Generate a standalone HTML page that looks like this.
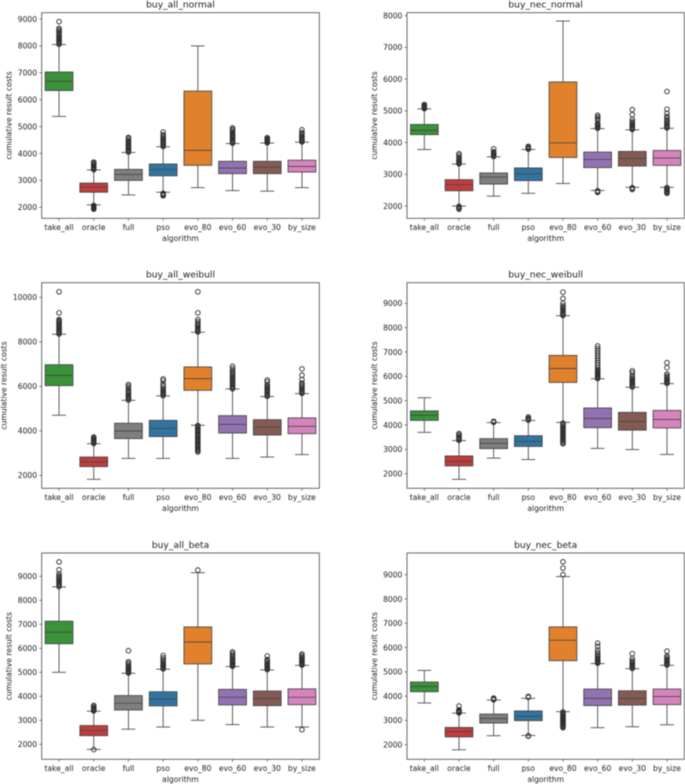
<!DOCTYPE html>
<html>
<head>
<meta charset="utf-8">
<style>
html,body{margin:0;padding:0;background:#fff;width:685px;height:784px;overflow:hidden}
svg{display:block;filter:blur(0.4px)}
text{font-family:"DejaVu Sans","Liberation Sans",sans-serif;fill:#1c1c1c}
</style>
</head>
<body>
<svg id="figure" width="685" height="784" viewBox="0 0 685 784" xmlns="http://www.w3.org/2000/svg"></svg>
<script>
const categories = ["take_all","oracle","full","pso","evo_80","evo_60","evo_30","by_size"];

const allNormalTicks = [2000,3000,4000,5000,6000,7000,8000,9000];
const allNormalDomain = [1591,9234];
const allNormalLow = [5380,2090,2460,2560,2730,2620,2600,2730];
const allNormalQ1 = [6340,2560,3000,3170,3560,3250,3250,3310];
const allNormalMedian = [6680,2750,3220,3400,4120,3460,3490,3520];
const allNormalQ3 = [7030,2900,3410,3610,6320,3710,3710,3750];
const allNormalHigh = [8050,3390,4040,4250,8000,4370,4390,4420];
const allNormalFliers = [
  [8060,8100,8140,8180,8220,8260,8300,8350,8400,8450,8500,8550,8600,8650,8900],
  [1930,1950,1970,1990,2010,2030,2050,2070,3400,3430,3460,3490,3530,3570,3610,3650,3680],
  [4050,4090,4130,4170,4210,4250,4290,4330,4370,4410,4450,4500,4560,4600],
  [2430,2460,2490,2520,4260,4300,4340,4380,4420,4460,4500,4550,4600,4650,4700,4800],
  [],
  [4380,4420,4460,4500,4540,4580,4620,4660,4700,4750,4800,4850,4900,4950],
  [4400,4430,4460,4490,4520,4550,4590],
  [4430,4470,4510,4550,4590,4630,4680,4730,4780,4880]
];

const necNormalTicks = [2000,3000,4000,5000,6000,7000,8000];
const necNormalDomain = [1612,8094];
const necNormalLow = [3780,2000,2310,2400,2710,2490,2590,2590];
const necNormalQ1 = [4250,2480,2690,2800,3530,3210,3260,3280];
const necNormalMedian = [4385,2670,2910,3010,3990,3470,3500,3510];
const necNormalQ3 = [4570,2830,3040,3200,5910,3700,3720,3750];
const necNormalHigh = [5060,3320,3550,3780,7830,4440,4400,4450];
const necNormalFliers = [
  [5070,5090,5110,5130,5150,5170,5200],
  [1900,1930,1960,1990,3330,3360,3390,3420,3450,3490,3540,3600,3650],
  [3560,3590,3620,3650,3680,3710,3800],
  [3790,3820,3850,3880],
  [],
  [2430,2450,2480,4450,4480,4510,4540,4570,4600,4700,4760,4810,4860],
  [2520,2550,2580,4410,4440,4470,4500,4540,4580,4620,4660,4730,4880,5040],
  [2400,2430,2460,2490,2520,2550,2580,4460,4490,4520,4550,4590,4630,4670,4720,4770,4820,4920,5050,5610]
];

const allWeibullTicks = [2000,4000,6000,8000,10000];
const allWeibullDomain = [1416,10656];
const allWeibullLow = [4700,1820,2760,2760,4250,2760,2820,2930];
const allWeibullQ1 = [6030,2390,3650,3740,5820,3900,3810,3870];
const allWeibullMedian = [6490,2600,3990,4110,6340,4290,4160,4200];
const allWeibullQ3 = [6970,2820,4340,4470,6870,4680,4500,4580];
const allWeibullHigh = [8340,3420,5370,5570,8430,5880,5540,5670];
const allWeibullFliers = [
  [8350,8400,8450,8500,8550,8600,8650,8700,8750,8800,8850,8900,8950,9000,9300,10250],
  [3430,3470,3510,3550,3590,3630,3680,3720],
  [5380,5430,5480,5530,5580,5640,5700,5760,5830,5920,6000,6080],
  [5580,5630,5680,5730,5780,5840,5900,6000,6100,6250,6330],
  [3050,3100,3150,3200,3250,3300,3350,3400,3450,3500,3550,3600,3650,3700,3750,3800,3850,3900,3950,4000,4050,4100,4150,4200,4240,8440,8490,8540,8590,8640,8700,8760,8820,8900,9000,9300,10250],
  [5890,5940,5990,6040,6090,6140,6190,6240,6290,6340,6400,6460,6520,6580,6640,6720,6800,6900],
  [5550,5600,5650,5700,5750,5800,5850,5900,5950,6000,6060,6200,6280],
  [5680,5730,5780,5830,5880,5950,6020,6080,6150,6300,6500,6780]
];

const necWeibullTicks = [2000,3000,4000,5000,6000,7000,8000,9000];
const necWeibullDomain = [1400,9847];
const necWeibullLow = [3700,1770,2640,2580,4110,3040,2990,2790];
const necWeibullQ1 = [4190,2320,3030,3120,5750,3890,3790,3880];
const necWeibullMedian = [4400,2510,3250,3330,6320,4270,4140,4230];
const necWeibullQ3 = [4580,2730,3440,3560,6860,4700,4520,4600];
const necWeibullHigh = [5120,3360,4100,4190,8490,5900,5550,5700];
const necWeibullFliers = [
  [],
  [3370,3410,3450,3490,3540,3600,3650],
  [4110,4130,4150],
  [4200,4240,4280,4330],
  [3230,3280,3330,3380,3430,3480,3530,3580,3630,3680,3730,3780,3830,3880,3930,3980,4030,4080,8500,8540,8580,8630,8680,8730,8780,8840,8900,9000,9200,9460],
  [5910,5950,5990,6030,6070,6110,6150,6190,6230,6270,6350,6450,6550,6650,6750,6850,6950,7050,7150,7250],
  [5560,5610,5660,5710,5760,5810,5860,5910,5970,6030,6150,6230],
  [5710,5750,5790,5830,5870,5920,5970,6030,6100,6360,6560]
];

const allBetaTicks = [2000,3000,4000,5000,6000,7000,8000,9000];
const allBetaDomain = [1375,9971];
const allBetaLow = [5000,1790,2630,2720,3000,2820,2720,2720];
const allBetaQ1 = [6190,2360,3430,3600,5350,3640,3610,3650];
const allBetaMedian = [6670,2580,3710,3880,6260,3960,3900,3960];
const allBetaQ3 = [7130,2780,4030,4190,6890,4290,4220,4310];
const allBetaHigh = [8560,3380,4960,5130,9150,5240,5100,5290];
const allBetaFliers = [
  [8570,8620,8670,8720,8770,8820,8870,8920,8970,9020,9100,9270,9600],
  [1780,3390,3420,3450,3480,3520,3570,3620],
  [4970,5010,5050,5090,5130,5170,5210,5260,5320,5380,5440,5900],
  [5140,5180,5220,5260,5300,5350,5400,5460,5520,5600,5700],
  [9260],
  [5250,5290,5330,5370,5410,5450,5500,5550,5600,5660,5720,5790,5850],
  [5110,5150,5190,5230,5270,5310,5360,5410,5470,5530,5680],
  [2610,5300,5340,5380,5420,5460,5500,5540,5590,5640,5700,5760]
];

const necBetaTicks = [2000,3000,4000,5000,6000,7000,8000,9000];
const necBetaDomain = [1399,9892];
const necBetaLow = [3720,1790,2370,2380,3360,2700,2740,2820];
const necBetaQ1 = [4180,2320,2890,2990,5460,3610,3630,3650];
const necBetaMedian = [4400,2540,3080,3170,6300,3910,3910,3980];
const necBetaQ3 = [4580,2710,3260,3390,6850,4290,4220,4290];
const necBetaHigh = [5060,3300,3840,3910,8920,5340,5130,5270];
const necBetaFliers = [
  [],
  [3310,3340,3370,3400,3440,3590],
  [3850,3880,3920],
  [2350,2370,3950,3990],
  [2700,2740,2780,2820,2860,2900,2940,2980,3020,3060,3100,3140,3180,3220,3260,3300,3350,9000,9270,9530],
  [5350,5390,5430,5470,5510,5550,5600,5660,5720,5800,5900,6050,6180],
  [5140,5180,5220,5260,5300,5350,5400,5460,5550,5750],
  [5280,5320,5360,5400,5440,5490,5540,5600,5650,5850]
];

const fillColors = ["#3a923a","#c03d3e","#7f7f7f","#3274a1","#e1812c","#9372b2","#845b53","#d684bd"];

const panels = [
  {id:"buy-all-normal",title:"buy_all_normal",left:41.7,right:319.3,top:12.7,bottom:218.3,labelX:9,ticks:allNormalTicks,domain:allNormalDomain,low:allNormalLow,q1:allNormalQ1,med:allNormalMedian,q3:allNormalQ3,high:allNormalHigh,fliers:allNormalFliers},
  {id:"buy-nec-normal",title:"buy_nec_normal",left:407,right:684.3,top:12.7,bottom:218.3,labelX:374.3,ticks:necNormalTicks,domain:necNormalDomain,low:necNormalLow,q1:necNormalQ1,med:necNormalMedian,q3:necNormalQ3,high:necNormalHigh,fliers:necNormalFliers},
  {id:"buy-all-weibull",title:"buy_all_weibull",left:41.7,right:319.3,top:282.7,bottom:488.3,labelX:4,ticks:allWeibullTicks,domain:allWeibullDomain,low:allWeibullLow,q1:allWeibullQ1,med:allWeibullMedian,q3:allWeibullQ3,high:allWeibullHigh,fliers:allWeibullFliers},
  {id:"buy-nec-weibull",title:"buy_nec_weibull",left:407,right:684.3,top:282.7,bottom:488.3,labelX:374.3,ticks:necWeibullTicks,domain:necWeibullDomain,low:necWeibullLow,q1:necWeibullQ1,med:necWeibullMedian,q3:necWeibullQ3,high:necWeibullHigh,fliers:necWeibullFliers},
  {id:"buy-all-beta",title:"buy_all_beta",left:41.7,right:319.3,top:553,bottom:759.3,labelX:9,ticks:allBetaTicks,domain:allBetaDomain,low:allBetaLow,q1:allBetaQ1,med:allBetaMedian,q3:allBetaQ3,high:allBetaHigh,fliers:allBetaFliers},
  {id:"buy-nec-beta",title:"buy_nec_beta",left:407,right:684.3,top:553,bottom:759.3,labelX:374.3,ticks:necBetaTicks,domain:necBetaDomain,low:necBetaLow,q1:necBetaQ1,med:necBetaMedian,q3:necBetaQ3,high:necBetaHigh,fliers:necBetaFliers}
];

const NS = "http://www.w3.org/2000/svg";
const svg = document.getElementById("figure");
const EDGE = "#444444";
const LW = 0.85;

function mk(parent, tag, attrs, txt) {
  const el = document.createElementNS(NS, tag);
  for (const k in attrs) el.setAttribute(k, attrs[k]);
  if (txt !== undefined) el.textContent = txt;
  parent.appendChild(el);
  return el;
}

panels.forEach(function (p) {
  const xScale = function (i) { return p.left + (i + 0.5) * (p.right - p.left) / categories.length; };
  const unit = (p.right - p.left) / categories.length;
  const yScale = function (v) { return p.bottom - (v - p.domain[0]) * (p.bottom - p.top) / (p.domain[1] - p.domain[0]); };

  const g = mk(svg, "g", {});
  
  

  categories.forEach(function (cat, i) {
    const cx = xScale(i);
    const box = mk(g, "g", {});
    
    

    const whiskerLow = mk(box, "line", {x1:cx,x2:cx,y1:yScale(p.low[i]),y2:yScale(p.q1[i]),stroke:EDGE,"stroke-width":LW});
    
    

    const whiskerHigh = mk(box, "line", {x1:cx,x2:cx,y1:yScale(p.q3[i]),y2:yScale(p.high[i]),stroke:EDGE,"stroke-width":LW});
    
    

    const capLow = mk(box, "line", {x1:cx - unit * 0.2,x2:cx + unit * 0.2,y1:yScale(p.low[i]),y2:yScale(p.low[i]),stroke:EDGE,"stroke-width":LW});
    
    

    const capHigh = mk(box, "line", {x1:cx - unit * 0.2,x2:cx + unit * 0.2,y1:yScale(p.high[i]),y2:yScale(p.high[i]),stroke:EDGE,"stroke-width":LW});
    
    

    const rect = mk(box, "rect", {x:cx - unit * 0.4,y:yScale(p.q3[i]),width:unit * 0.8,height:yScale(p.q1[i]) - yScale(p.q3[i]),fill:fillColors[i],stroke:EDGE,"stroke-width":LW});
    
    

    const median = mk(box, "line", {x1:cx - unit * 0.4,x2:cx + unit * 0.4,y1:yScale(p.med[i]),y2:yScale(p.med[i]),stroke:EDGE,"stroke-width":LW});
    
    

    p.fliers[i].forEach(function (v) {
      const dot = mk(box, "circle", {cx:cx,cy:yScale(v),r:2.3,fill:"none",stroke:"#2e2e2e","stroke-width":0.95});
      
      
    });

    const xTick = mk(g, "line", {x1:cx,x2:cx,y1:p.bottom,y2:p.bottom + 2.4,stroke:"#333","stroke-width":0.6});
    
    

    const xLab = mk(g, "text", {x:cx,y:p.bottom + 11.6,"text-anchor":"middle","font-size":7.6}, cat);
    
    
  });

  p.ticks.forEach(function (t) {
    const y = yScale(t);
    const yTick = mk(g, "line", {x1:p.left - 2.4,x2:p.left,y1:y,y2:y,stroke:"#333","stroke-width":0.6});
    
    

    const yLab = mk(g, "text", {x:p.left - 4.6,y:y + 2.8,"text-anchor":"end","font-size":7.6}, String(t));
    
    
  });

  const frame = mk(g, "rect", {x:p.left,y:p.top,width:p.right - p.left,height:p.bottom - p.top,fill:"none",stroke:"#444","stroke-width":0.8});
  
  

  const title = mk(g, "text", {x:(p.left + p.right) / 2,y:p.top - 5.2,"text-anchor":"middle","font-size":9.15}, p.title);
  
  

  const xTitle = mk(g, "text", {x:(p.left + p.right) / 2,y:p.bottom + 22.7,"text-anchor":"middle","font-size":7.6}, "algorithm");
  
  

  const midY = (p.top + p.bottom) / 2;
  const yTitle = mk(g, "text", {x:p.labelX + 2.7,y:midY,"text-anchor":"middle","font-size":7.6,transform:"rotate(-90 " + (p.labelX + 2.7) + " " + midY + ")"}, "cumulative result costs");
  
  
});
</script>
</body>
</html>
